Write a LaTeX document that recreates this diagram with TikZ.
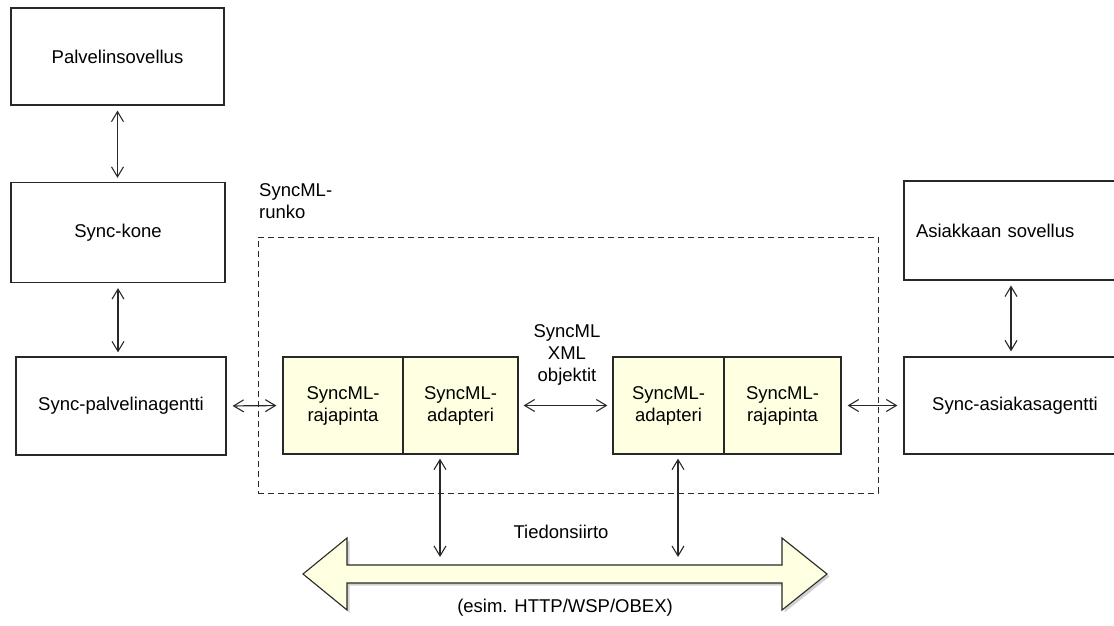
\documentclass[tikz,border=0pt]{standalone}
\usepackage{fontspec}
\setmainfont{Liberation Sans}
\usetikzlibrary{arrows.meta,calc}
\definecolor{boxyellow}{RGB}{255,255,225}
\definecolor{edge}{RGB}{40,40,40}
\begin{document}
\begin{tikzpicture}[x=1pt,y=-1pt,
  txt/.style={font=\fontsize{18.5}{22}\selectfont},
  box/.style={txt, draw=edge, line width=1.2pt, fill=white, inner sep=0pt, align=center},
  ybox/.style={box, fill=boxyellow},
  barb/.tip={Straight Barb[length=10pt,width=12pt,line width=1.1pt]},
  link/.style={barb-barb, line width=1.2pt, draw=edge},
  lbl/.style={txt, align=center, inner sep=0pt},
  frame/.style={draw=edge, line width=1pt, dash pattern=on 6pt off 4pt}]
\useasboundingbox (0,0) rectangle (1114,626);
\clip (0,0) rectangle (1114,626);

% server side column
\node[box, minimum width=213pt, minimum height=97pt] (psov) at (117.5,56.5) {Palvelinsovellus};
\node[box, minimum width=214pt, minimum height=100pt] (kone) at (118,232.5) {Sync-kone};
\node[box, minimum width=210pt, minimum height=98pt] (pag) at (121,406) {Sync-palvelinagentti};

% SyncML framework (dashed)
\node[frame, minimum width=620pt, minimum height=256pt] (runko) at (568,365) {};
\node[lbl, align=left, anchor=north west] (runkolbl) at (259,183) {SyncML-\\runko};

% interface / adapter pairs
\node[ybox, minimum width=120pt, minimum height=97pt] (lraj) at (343,405.5) {SyncML-\\rajapinta};
\node[ybox, minimum width=115pt, minimum height=97pt] (ladp) at (460.5,405.5) {SyncML-\\adapteri};
\node[ybox, minimum width=111pt, minimum height=97pt] (radp) at (668.5,405.5) {SyncML-\\adapteri};
\node[ybox, minimum width=117pt, minimum height=97pt] (rraj) at (782.5,405.5) {SyncML-\\rajapinta};
\node[lbl] (xmlobj) at (567,355) {SyncML\\XML\\objektit};

% client side column
\node[box, minimum height=99pt, text width=192pt, align=left, inner xsep=12pt] (asov) at (1012,230.5) {Asiakkaan sovellus};
\node[box, minimum width=222pt, minimum height=97pt] (aag) at (1015,405.5) {Sync-asiakasagentti};

% transport bus (double arrow with soft shadow)
\coordinate (bl) at (440,566);
\coordinate (br) at (678,566);
\coordinate (ac) at (1011,280.5);
\fill[black, opacity=0.18] [shift={(2.5,2.5)}]
  (303,574) -- (347,538) -- (347,565) -- (782,565) -- (782,538) -- (827,574)
  -- (782,610) -- (782,583) -- (347,583) -- (347,610) -- cycle;
\draw[fill=boxyellow, draw=edge, line width=1.1pt, line join=miter]
  (303,574) -- (347,538) -- (347,565) -- (782,565) -- (782,538) -- (827,574)
  -- (782,610) -- (782,583) -- (347,583) -- (347,610) -- cycle;
\node[lbl] (tied) at (561,532) {Tiedonsiirto};
\node[lbl] (esim) at (565,608) {(esim. HTTP/WSP/OBEX)};

% connectors
\draw[link, shorten <=5pt, shorten >=4pt] (psov.south) -- (psov.south |- kone.north);
\draw[link, shorten <=5pt, shorten >=4pt] (kone.south) -- (kone.south |- pag.north);
\draw[link, shorten <=6pt, shorten >=6pt] (pag.east) -- (lraj.west);
\draw[link, shorten <=5pt, shorten >=5pt] (ladp.east) -- (radp.west);
\draw[link, shorten <=6pt, shorten >=6pt] (rraj.east) -- (aag.west);
\draw[link, shorten <=5pt, shorten >=5pt] (ac) -- (ac |- aag.north);
\draw[link, shorten <=4pt, shorten >=9pt] (bl |- ladp.south) -- (bl);
\draw[link, shorten <=4pt, shorten >=9pt] (br |- radp.south) -- (br);
\end{tikzpicture}
\end{document}
